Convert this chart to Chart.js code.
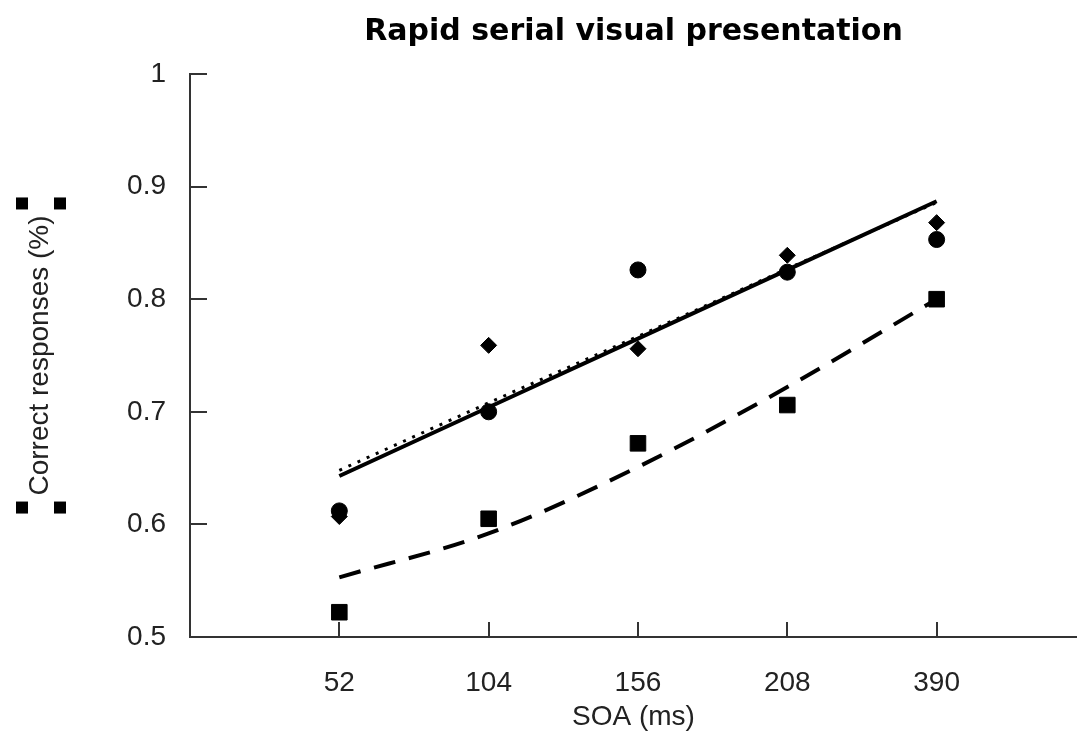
<!DOCTYPE html>
<html>
<head>
<meta charset="utf-8">
<script src="https://cdn.jsdelivr.net/npm/chart.js@4/dist/chart.umd.min.js"></script>
<style>
  html, body { margin: 0; padding: 0; background: #fff; overflow: hidden; }
  canvas { display: block; }
</style>
</head>
<body>
<canvas id="rsvp" width="1077" height="734"></canvas>
<script>
// SOA categories (ms)
var soa = ['52', '104', '156', '208', '390'];
var yTicks = [0.5, 0.6, 0.7, 0.8, 0.9, 1];

// observed proportions correct
var diamonds = [0.607, 0.759, 0.756, 0.839, 0.868];
var circles  = [0.612, 0.700, 0.826, 0.824, 0.853];
var squares  = [0.522, 0.605, 0.672, 0.706, 0.800];

// trend lines
var trendSolid  = [0.643, 0.704, 0.765, 0.826, 0.887];
var trendDotted = [0.648, 0.708, 0.767, 0.827, 0.886];
var trendDashed = [0.553, 0.592, 0.651, 0.722, 0.800];

function pts(arr) {
    return arr.map(function (v, i) { return { x: i + 1, y: v }; });
}

var font = "'Liberation Sans', Arial, sans-serif";
var titleFont = "'DejaVu Sans', Verdana, sans-serif";

// inward ticks + selection handles around y title
var extras = {
    id: 'extras',
    afterDraw: function (chart) {
        var ctx = chart.ctx, a = chart.chartArea;
        var xs = chart.scales.x, ys = chart.scales.y;
        ctx.save();
        ctx.strokeStyle = '#333';
        ctx.lineWidth = 2;
        ctx.beginPath();
        yTicks.forEach(function (v) {
            var py = Math.round(ys.getPixelForValue(v));
            ctx.moveTo(a.left, py); ctx.lineTo(a.left + 17, py);
        });
        soa.forEach(function (s, i) {
            var px = Math.round(xs.getPixelForValue(i + 1));
            ctx.moveTo(px, a.bottom); ctx.lineTo(px, a.bottom - 15);
        });
        ctx.stroke();
        // selection handles
        ctx.font = '28px ' + font;
        var w = ctx.measureText('Correct responses (%)').width;
        var cy = (a.top + a.bottom) / 2;
        var t = cy - w / 2 - 12, b = cy + w / 2 + 12;
        ctx.fillStyle = '#000';
        [[22, t], [60, t], [22, b], [60, b]].forEach(function (p) {
            ctx.fillRect(p[0] - 6, p[1] - 6, 12, 12);
        });
        ctx.restore();
    }
};

new Chart(document.getElementById('rsvp'), {
    type: 'scatter',
    data: {
        datasets: [{
            label: 'trend solid',
            data: pts(trendSolid),
            showLine: true,
            borderColor: '#000',
            borderWidth: 4,
            pointRadius: 0
        }, {
            label: 'trend dotted',
            data: pts(trendDotted),
            showLine: true,
            borderColor: '#000',
            borderWidth: 3,
            borderDash: [3, 7],
            pointRadius: 0
        }, {
            label: 'trend dashed',
            data: pts(trendDashed),
            showLine: true,
            borderColor: '#000',
            borderWidth: 4,
            borderDash: [22, 14],
            cubicInterpolationMode: 'monotone',
            pointRadius: 0
        }, {
            label: 'diamonds',
            data: pts(diamonds),
            pointStyle: 'rectRot',
            pointRadius: 8,
            backgroundColor: '#000',
            borderColor: '#000'
        }, {
            label: 'circles',
            data: pts(circles),
            pointStyle: 'circle',
            pointRadius: 8,
            backgroundColor: '#000',
            borderColor: '#000'
        }, {
            label: 'squares',
            data: pts(squares),
            pointStyle: 'rect',
            pointRadius: 11,
            backgroundColor: '#000',
            borderColor: '#000'
        }]
    },
    options: {
        responsive: false,
        animation: false,
        devicePixelRatio: 1,
        layout: { autoPadding: false, padding: { left: 0, right: 0, top: 0, bottom: 0 } },
        plugins: {
            legend: { display: false },
            tooltip: { enabled: false },
            title: {
                display: true,
                fullSize: false,
                text: 'Rapid serial visual presentation',
                color: '#000',
                font: { family: titleFont, size: 30, weight: 'bold' },
                padding: { top: 14, bottom: 24 }
            }
        },
        scales: {
            x: {
                type: 'linear',
                min: 0,
                max: 5.94,
                afterBuildTicks: function (s) {
                    s.ticks = soa.map(function (c, i) { return { value: i + 1 }; });
                },
                afterFit: function (s) {
                    s.height = 97;
                    s.paddingLeft = 0;
                    s.paddingRight = 0;
                },
                ticks: {
                    callback: function (v) { return soa[v - 1]; },
                    color: '#222',
                    font: { family: font, size: 28 },
                    padding: 29,
                    maxRotation: 0
                },
                grid: { display: false, drawTicks: false },
                border: { display: true, color: '#333', width: 2 },
                title: {
                    display: true,
                    text: 'SOA (ms)',
                    color: '#222',
                    font: { family: font, size: 28 },
                    padding: { top: 0, bottom: 0 }
                }
            },
            y: {
                min: 0.5,
                max: 1,
                afterBuildTicks: function (s) {
                    s.ticks = yTicks.map(function (v) { return { value: v }; });
                },
                afterFit: function (s) { s.width = 190; },
                ticks: {
                    callback: function (v) { return v === 1 ? '1' : v.toFixed(1); },
                    color: '#222',
                    font: { family: font, size: 28 },
                    padding: 24
                },
                grid: { display: false, drawTicks: false },
                border: { display: true, color: '#333', width: 2 },
                title: {
                    display: true,
                    text: 'Correct responses (%)',
                    color: '#222',
                    font: { family: font, size: 28 },
                    padding: { top: 23, bottom: 0 }
                }
            }
        }
    },
    plugins: [extras]
});
</script>
</body>
</html>
